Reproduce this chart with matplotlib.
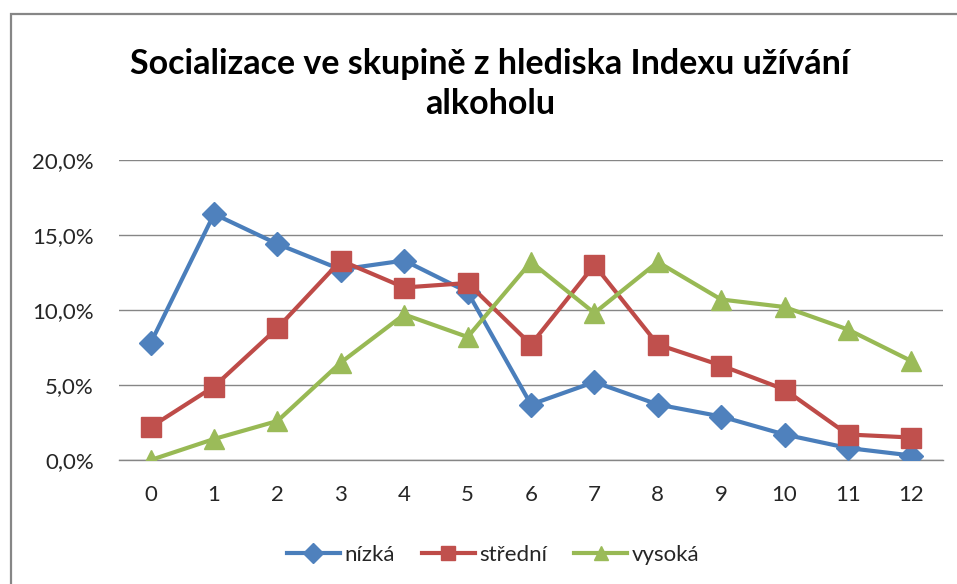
import matplotlib
matplotlib.use("Agg")
import matplotlib.pyplot as plt
from matplotlib.patches import Rectangle

plt.rcParams['font.family'] = ['Lato', 'DejaVu Sans']

categories = list(range(13))
nizka = [7.8, 16.4, 14.4, 12.7, 13.3, 11.2, 3.7, 5.2, 3.7, 2.9, 1.7, 0.8, 0.3]
stredni = [2.2, 4.9, 8.8, 13.3, 11.5, 11.8, 7.7, 13.0, 7.7, 6.3, 4.7, 1.7, 1.5]
vysoka = [0.0, 1.4, 2.6, 6.5, 9.7, 8.2, 13.2, 9.8, 13.2, 10.7, 10.2, 8.7, 6.6]
series_names = ['nízká', 'střední', 'vysoká']
y_ticks = [0, 5, 10, 15, 20]
y_tick_labels = ['0,0%', '5,0%', '10,0%', '15,0%', '20,0%']
title = 'Socializace ve skupině z hlediska Indexu užívání\nalkoholu'

W, H = 957, 584
fig = plt.figure(figsize=(W / 100, H / 100), dpi=100)

# outer chart border
fig.patches.append(Rectangle((11 / W, -0.05), 1.0, (584 - 14) / H + 0.05,
                             transform=fig.transFigure, fill=False,
                             edgecolor='#868686', linewidth=1.6))

ax = fig.add_axes([119 / W, (H - 460) / H, (943 - 119) / W, 300 / H])

line_color = ['#4A7EBB', '#BE4B48', '#98B954']
mk_color = ['#4F81BD', '#C0504D', '#9BBB59']
markers = ['D', 's', '^']
msizes = [12, 14.5, 15]
for vals, name, lc, mc, m, ms in zip([nizka, stredni, vysoka], series_names,
                                     line_color, mk_color, markers, msizes):
    ax.plot(categories, vals, color=lc, linewidth=3.0, marker=m, markersize=ms,
            markerfacecolor=mc, markeredgecolor=mc, label=name, zorder=3,
            solid_joinstyle='round')

ax.set_xlim(-0.5, 12.5)
ax.set_ylim(0, 20)
ax.set_yticks(y_ticks)
ax.set_yticklabels(y_tick_labels)
ax.set_xticks(categories)
ax.set_xticklabels([str(c) for c in categories])
ax.yaxis.grid(True, color='#868686', linewidth=1.0)
ax.set_axisbelow(True)
for s in ['top', 'right', 'left']:
    ax.spines[s].set_visible(False)
ax.spines['bottom'].set_color('#868686')
ax.spines['bottom'].set_linewidth(1.0)
ax.tick_params(axis='both', length=0, labelsize=16, colors='#262626')
ax.tick_params(axis='x', pad=18)
ax.tick_params(axis='y', pad=18)

fig.text(490 / W, 1 - 84 / H, title, ha='center', va='center', fontsize=24.5,
         fontweight='bold', color='black', linespacing=1.3)

leg = fig.legend(loc='center', bbox_to_anchor=(493 / W, 1 - 555 / H), ncol=3,
                 frameon=False, fontsize=16, handlelength=2.4, columnspacing=1.2,
                 handletextpad=0.2)
for h in leg.legend_handles:
    h.set_markersize(10)
for t in leg.get_texts():
    t.set_color('#262626')

fig.savefig('out.png', dpi=100)
